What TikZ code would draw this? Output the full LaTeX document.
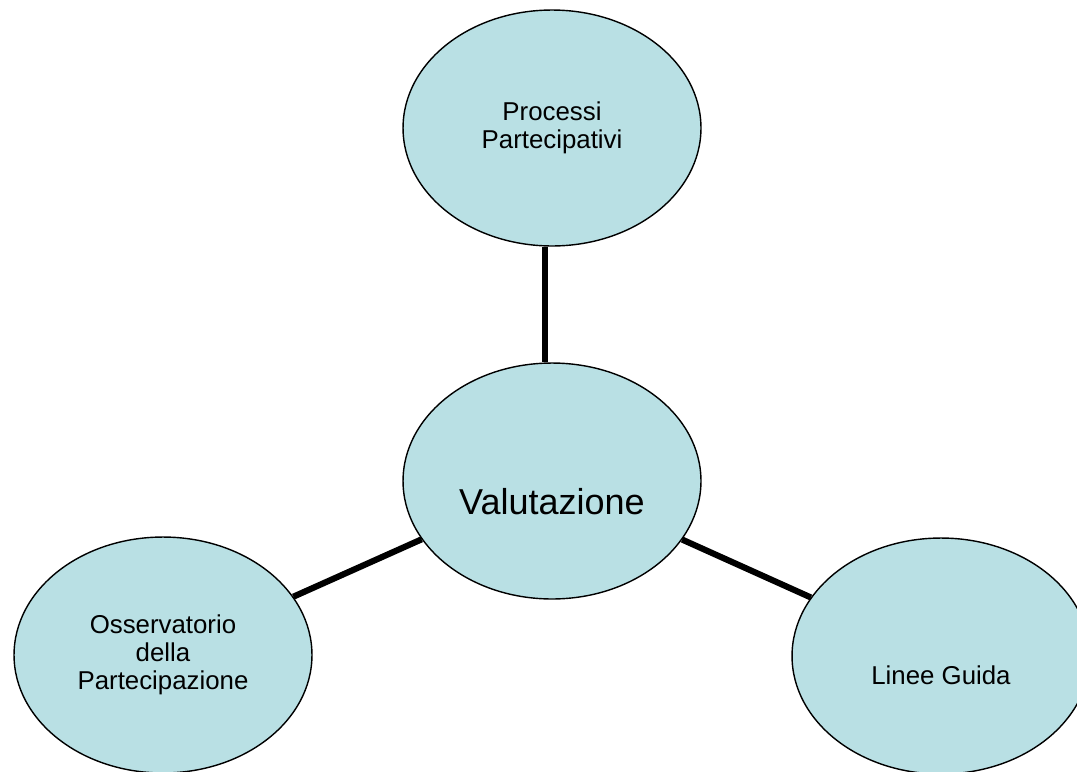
\documentclass[tikz,border=0pt]{standalone}
\usepackage{fontspec}
\setmainfont{Liberation Sans}
\usepackage{tikz}
\usetikzlibrary{shapes.geometric}

\definecolor{bubblefill}{RGB}{185,224,228}

\begin{document}
\begin{tikzpicture}[
    x=0.02cm, y=-0.02cm,
    bubble/.style={draw, ellipse, fill=bubblefill, line width=0.8pt, inner sep=0pt, align=center,
                   minimum width=5.96cm, minimum height=4.72cm, font=\fontsize{14.7}{16}\selectfont},
    big/.style={font=\fontsize{20.5}{24}\selectfont, text height=1.32cm, text depth=0pt},
    low/.style={text height=1.12cm, text depth=0pt},
    link/.style={line width=3.5pt}
  ]
    \clip (0,0) rectangle (1077,771);

    \node[bubble, big] (val)  at (552,481) {Valutazione};
    \node[bubble]      (proc) at (552,128) {Processi\\Partecipativi};
    \node[bubble]      (oss)  at (163,655) {Osservatorio\\della\\Partecipazione};
    \node[bubble, low] (linee) at (941,656) {Linee Guida};

    \draw[link] ([xshift=-0.14cm]proc.south) -- ([xshift=-0.14cm]val.north);
    \draw[link] (val) -- (oss);
    \draw[link] (val) -- (linee);
\end{tikzpicture}
\end{document}
